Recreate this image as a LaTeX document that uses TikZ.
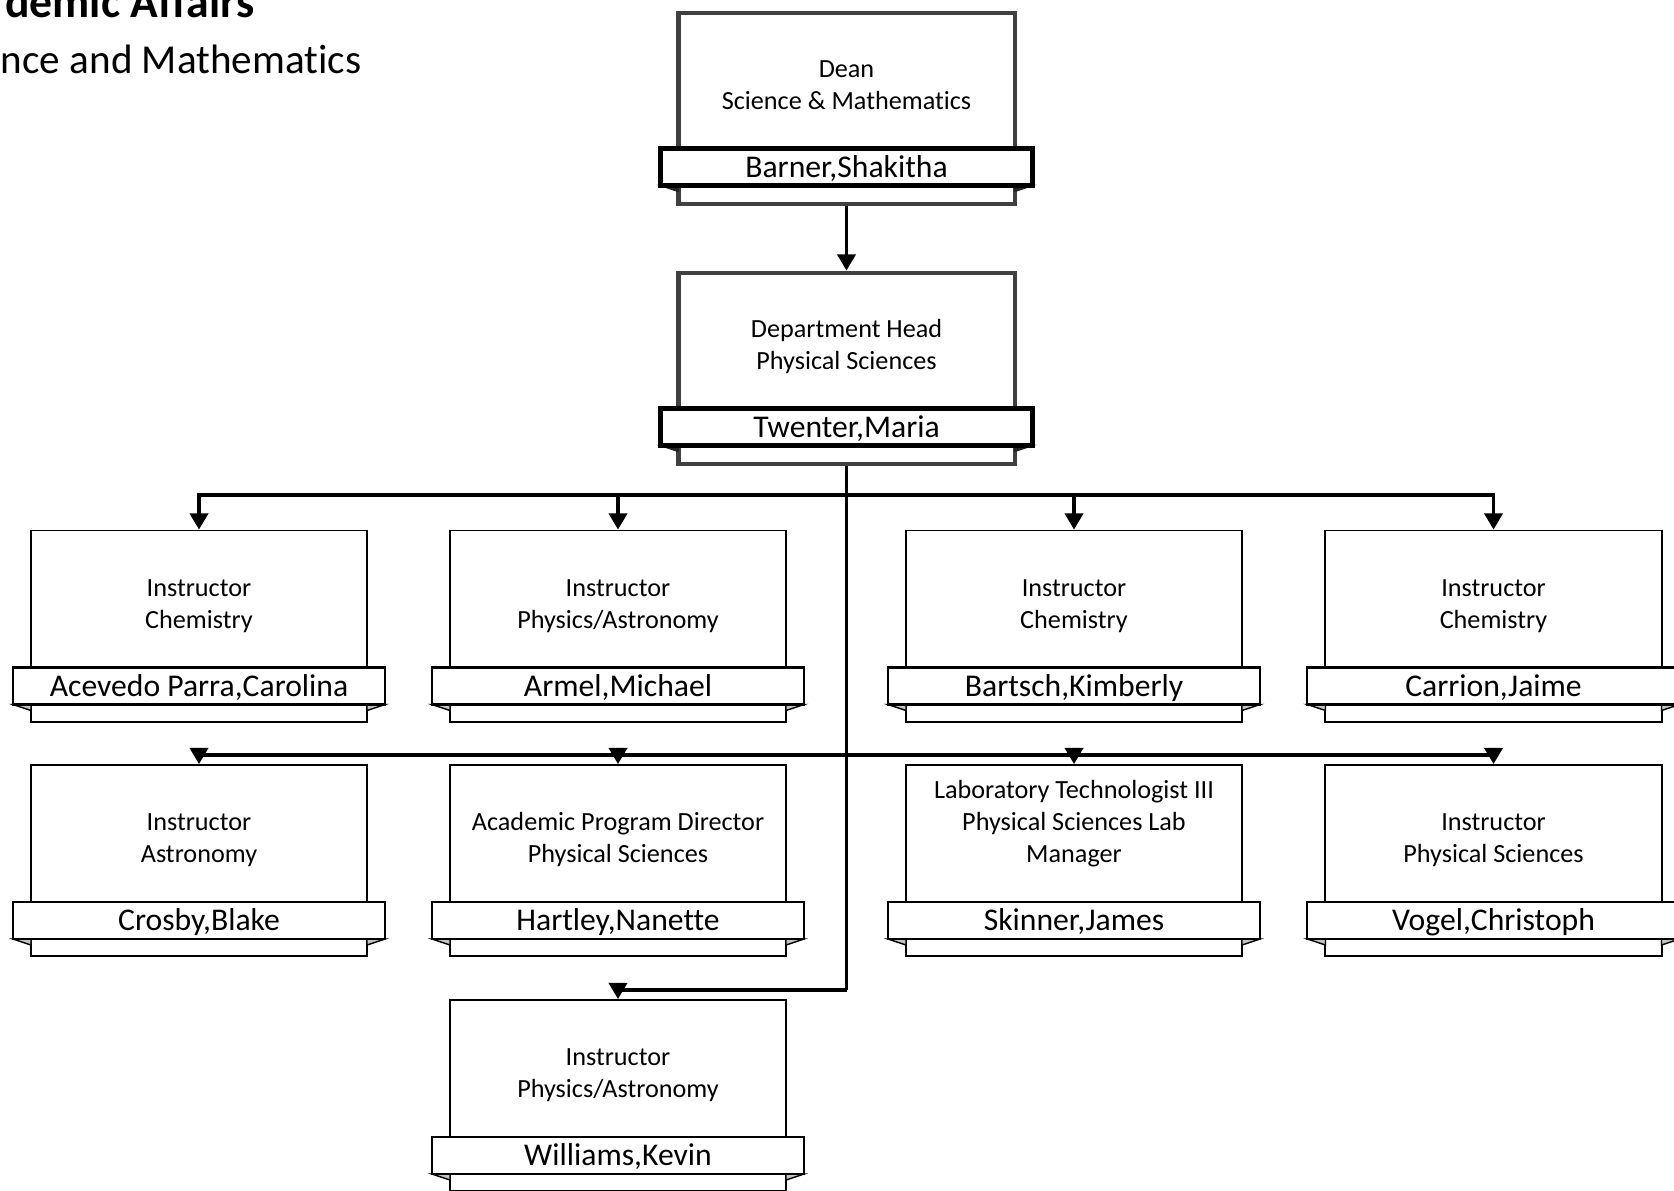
\documentclass[tikz,border=0pt]{standalone}
\usepackage{fontspec}
\setmainfont{Carlito}[Ligatures=NoCommon]
\usetikzlibrary{arrows.meta, calc}

\definecolor{headgray}{HTML}{404040}
\definecolor{folddark}{HTML}{262626}
\definecolor{foldlight}{HTML}{C4C4C4}

\tikzset{
  unitbox/.style={draw, fill=white, line width=0.55pt, anchor=north,
    minimum width=3.36cm, minimum height=1.91cm, inner sep=0pt},
  unitfold/.style={draw, fill=foldlight, line width=0.4pt},
  unitband/.style={draw, fill=white, line width=0.6pt,
    minimum width=3.72cm, minimum height=0.37cm, inner sep=0pt,
    text height=0.78em, text depth=0.2em, font=\fontsize{9}{10}\selectfont},
  unittitle/.style={anchor=south, align=center, inner sep=0pt, text depth=0pt,
    font=\fontsize{7.45}{9.1}\selectfont},
  link/.style={line width=0.9pt},
  arr/.style={link, -{Triangle[width=5.2pt, length=4.6pt]}}
}

% Einheit: Kasten, Namensband mit Falten, Titel
% #1 Name, #2 Mitte x, #3 Oberkante y, #4 Titel, #5 Person
\newcommand{\orgunit}[5]{%
  \node[unitbox] (#1) at (#2,#3) {};
  \filldraw[unitfold] (#2-186,#3+175) -- (#2-168,#3+175) -- (#2-168,#3+181) -- cycle;
  \filldraw[unitfold] (#2+186,#3+175) -- (#2+168,#3+175) -- (#2+168,#3+181) -- cycle;
  \node[unitband] (#1-n) at (#2,#3+156.5) {#5};
  \node[unittitle] (#1-t) at (#2,#3+99.5) {#4};
}

\begin{document}
\begin{tikzpicture}[x=0.01cm, y=-0.01cm]

    \useasboundingbox (0,0) rectangle (1674,1190);

    % 1. Kopfzeile (links abgeschnitten)
    \node[anchor=base east, inner sep=0pt, font=\fontsize{13}{15}\selectfont\bfseries]
      (hdr1) at (255,17) {demic Affairs};
    \node[anchor=base east, inner sep=0pt, font=\fontsize{11.7}{14}\selectfont]
      (hdr2) at (362,73) {nce and Mathematics};

    % 2. Leitung (dicke Rahmen)
    \begin{scope}[unitbox/.append style={draw=headgray, line width=1.2pt},
                  unitfold/.append style={fill=folddark, draw=folddark},
                  unitband/.append style={line width=1.4pt}]
      \orgunit{dean}{846.5}{10.5}{Dean\\Science \& Mathematics}{Barner,Shakitha}
      \orgunit{head}{846.5}{270.5}{Department Head\\Physical Sciences}{Twenter,Maria}
    \end{scope}

    % 3. Erste Reihe
    \orgunit{chemA}{199}{529.5}{Instructor\\Chemistry}{Acevedo Parra,Carolina}
    \orgunit{physA}{618}{529.5}{Instructor\\Physics/Astronomy}{Armel,Michael}
    \orgunit{chemB}{1074}{529.5}{Instructor\\Chemistry}{Bartsch,Kimberly}
    \orgunit{chemC}{1493.5}{529.5}{Instructor\\Chemistry}{Carrion,Jaime}

    % 4. Zweite Reihe
    \orgunit{astro}{199}{764}{Instructor\\Astronomy}{Crosby,Blake}
    \orgunit{apd}{618}{764}{Academic Program Director\\Physical Sciences}{Hartley,Nanette}
    \orgunit{lab}{1074}{764}{Laboratory Technologist III\\Physical Sciences Lab\\Manager}{Skinner,James}
    \orgunit{phys}{1493.5}{764}{Instructor\\Physical Sciences}{Vogel,Christoph}

    % 5. Dritte Reihe
    \orgunit{physB}{618}{999}{Instructor\\Physics/Astronomy}{Williams,Kevin}

    % 6. Verbindungen
    \coordinate (j1) at (846.5,495);
    \coordinate (j2) at (846.5,755);
    \coordinate (j3) at (846.5,990);

    \draw[arr] (dean.south) -- (head.north);
    \draw[link] (head.south) -- (j3);
    \foreach \u in {chemA, physA, chemB, chemC}
      \draw[arr] (j1) -| (\u.north);
    \foreach \u in {astro, apd, lab, phys}
      \draw[arr] (j2) -| (\u.north);
    \draw[arr] (j3) -| (physB.north);

\end{tikzpicture}
\end{document}
